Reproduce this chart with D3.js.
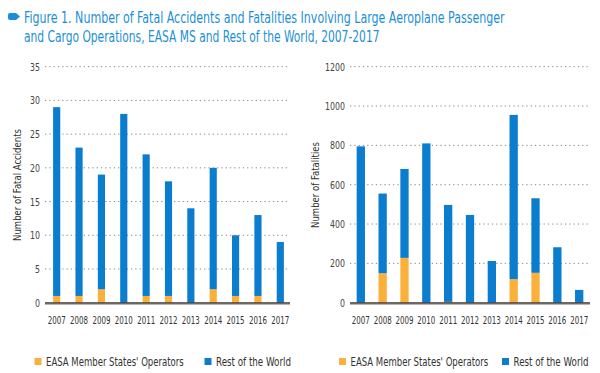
<!DOCTYPE html>
<html>
<head>
<meta charset="utf-8">
<script src="https://cdn.jsdelivr.net/npm/d3@7"></script>
<style>
  body { margin: 0; background: #fff; }
  svg { display: block; }
  text { font-family: "DejaVu Sans Condensed", "Liberation Sans", sans-serif; }
</style>
</head>
<body>
<svg id="chart" width="600" height="373"></svg>
<script>
// data
const years = ["2007","2008","2009","2010","2011","2012","2013","2014","2015","2016","2017"];
const seriesNames = ["EASA Member States' Operators", "Rest of the World"];
// fatal accidents
const accEasa = [1, 1, 2, 0, 1, 1, 0, 2, 1, 1, 0];
const accRow  = [28, 22, 17, 28, 21, 17, 14, 18, 9, 12, 9];
// fatalities
const fatEasa = [0, 150, 228, 0, 4, 0, 0, 120, 152, 0, 0];
const fatRow  = [795, 405, 452, 810, 493, 446, 212, 835, 379, 282, 65];
const accTicks = [0, 5, 10, 15, 20, 25, 30, 35];
const fatTicks = [0, 200, 400, 600, 800, 1000, 1200];

const colors = ["#fbb03b", "#0b7dcf"];
const titleBlue = "#1b8fd5";

const svg = d3.select("#chart");

// the reference uses a narrow font: squeeze each text horizontally
// to the width measured there (text must already be set, transform holds the position)
function squeeze(sel, w) {
  sel.each(function(d, i) {
    let node = d3.select(this);
    let target = typeof w === "function" ? w(d, i) : w;
    let k = target / this.getComputedTextLength();
    node.attr("transform", node.attr("transform") + " scale(" + k + ",1)");
  });
}

// title with the little tab marker
svg.append("path")
  .attr("d", "M10,13 L16,13 L20,16.5 L16,20 L10,20 Q8,20 8,18 L8,15 Q8,13 10,13 Z")
  .attr("fill", titleBlue);

const titleLines = [
  "Figure 1. Number of Fatal Accidents and Fatalities Involving Large Aeroplane Passenger",
  "and Cargo Operations, EASA MS and Rest of the World, 2007-2017"
];
const titleWidths = [481, 356];
svg.selectAll("text.title")
  .data(titleLines)
  .enter().append("text")
  .attr("class", "title")
  .attr("transform", (d, i) => "translate(24," + (22.5 + i * 19) + ")")
  .attr("fill", titleBlue)
  .style("font-size", "16px")
  .text(d => d)
  .call(squeeze, (d, i) => titleWidths[i]);

function drawPanel(opt) {
  let x = d3.scaleBand()
    .domain(years)
    .range(opt.xRange)
    .paddingInner(opt.pad)
    .paddingOuter(opt.pad / 2);

  let y = d3.scaleLinear()
    .domain([0, opt.max])
    .range([302.7, 66.7]);

  let g = svg.append("g");

  // dotted gridlines
  g.selectAll("line.grid")
    .data(opt.ticks.filter(t => t > 0))
    .enter().append("line")
    .attr("x1", opt.axisX[0])
    .attr("x2", opt.axisX[1])
    .attr("y1", d => y(d))
    .attr("y2", d => y(d))
    .attr("stroke", "#8a8a8a")
    .attr("stroke-width", 1)
    .attr("stroke-dasharray", "1.3,3");

  // tick labels
  g.selectAll("text.tick")
    .data(opt.ticks)
    .enter().append("text")
    .attr("transform", d => "translate(" + opt.tickX + "," + (y(d) + 4) + ")")
    .attr("text-anchor", "end")
    .attr("fill", "#444")
    .style("font-size", "11px")
    .text(d => d)
    .call(squeeze, d => String(d).length * 5);

  // stacked bars
  let table = years.map((yr, i) => ({ year: yr, easa: opt.easa[i], row: opt.row[i] }));
  let stacked = d3.stack().keys(["easa", "row"])(table);

  g.selectAll("g.layer")
    .data(stacked)
    .enter().append("g")
    .attr("fill", (d, i) => colors[i])
    .selectAll("rect")
    .data(d => d)
    .enter().append("rect")
    .attr("x", d => x(d.data.year))
    .attr("width", x.bandwidth())
    .attr("y", d => y(d[1]))
    .attr("height", d => y(d[0]) - y(d[1]));

  // baseline
  g.append("line")
    .attr("x1", opt.axisX[0])
    .attr("x2", opt.axisX[1])
    .attr("y1", y(0) + 0.5)
    .attr("y2", y(0) + 0.5)
    .attr("stroke", "#3d3630")
    .attr("stroke-opacity", 0.75)
    .attr("stroke-width", 2.5);

  // year labels
  g.selectAll("text.year")
    .data(years)
    .enter().append("text")
    .attr("transform", d => "translate(" + (x(d) + x.bandwidth() / 2) + ",324)")
    .attr("text-anchor", "middle")
    .attr("fill", "#333")
    .style("font-size", "10.5px")
    .text(d => d)
    .call(squeeze, 18);

  // y axis title
  g.append("text")
    .attr("transform", "translate(" + opt.labelX + ",185) rotate(-90)")
    .attr("text-anchor", "middle")
    .attr("fill", "#333")
    .style("font-size", "11px")
    .text(opt.label)
    .call(squeeze, opt.labelW);

  // legend
  let leg = g.selectAll("g.legend")
    .data(seriesNames)
    .enter().append("g")
    .attr("transform", (d, i) => "translate(" + opt.legendX[i] + ",358)");
  leg.append("rect")
    .attr("width", 7)
    .attr("height", 7)
    .attr("fill", (d, i) => colors[i]);
  leg.append("text")
    .attr("transform", "translate(11.5,7.5)")
    .attr("fill", "#333")
    .style("font-size", "12px")
    .text(d => d)
    .call(squeeze, (d, i) => opt.legendW[i]);
}

drawPanel({
  xRange: [45.5, 291.5], axisX: [45, 290], pad: 0.68, max: 35,
  ticks: accTicks, tickX: 40, easa: accEasa, row: accRow,
  label: "Number of Fatal Accidents", labelX: 21, labelW: 112,
  legendX: [34.5, 204.5], legendW: [138, 75]
});

drawPanel({
  xRange: [349.9, 590.1], axisX: [350, 590], pad: 0.62, max: 1200,
  ticks: fatTicks, tickX: 345, easa: fatEasa, row: fatRow,
  label: "Number of Fatalities", labelX: 319, labelW: 86,
  legendX: [339, 502], legendW: [138, 75]
});
</script>
</body>
</html>
